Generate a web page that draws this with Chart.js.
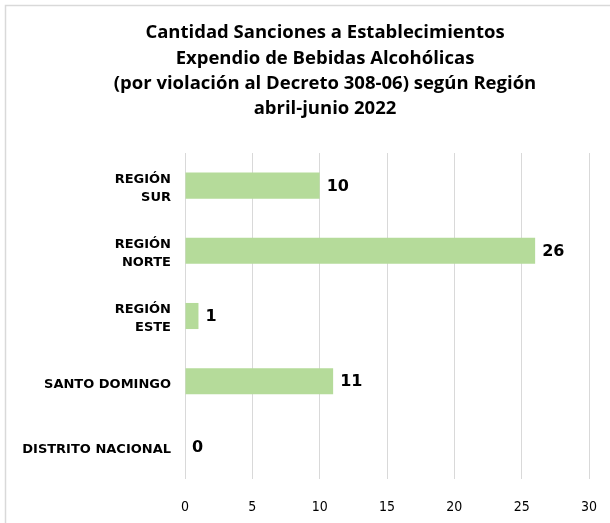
<!DOCTYPE html>
<html>
<head>
<meta charset="utf-8">
<script src="https://cdn.jsdelivr.net/npm/chart.js@4.4.1/dist/chart.umd.min.js"></script>
<style>
  html, body { margin: 0; padding: 0; background: #fff; }
  #wrap { width: 610px; height: 523px; position: relative; }
</style>
</head>
<body>
<div id="wrap"><canvas id="chart" width="610" height="523"></canvas></div>
<script>
  "use strict";

  // Datos del gráfico
  const regiones = [
    ["REGIÓN", "SUR"],
    ["REGIÓN", "NORTE"],
    ["REGIÓN", "ESTE"],
    "SANTO DOMINGO",
    "DISTRITO NACIONAL",
  ];
  const sanciones = [10, 26, 1, 11, 0];
  const tituloLineas = [
    "Cantidad Sanciones a Establecimientos",
    "Expendio de Bebidas Alcohólicas",
    "(por violación al Decreto 308-06) según Región",
    "abril-junio 2022",
  ];
  const ejeMin = 0;
  const ejeMax = 30;
  const ejePaso = 5;

  // Fondo y borde gris arriba e izquierda, como en la imagen
  const bordePlugin = {
    id: "borde",
    beforeDraw(chart) {
      const ctx = chart.ctx;
      ctx.save();
      ctx.fillStyle = "#ffffff";
      ctx.fillRect(0, 0, chart.width, chart.height);
      ctx.strokeStyle = "#d9d9d9";
      ctx.lineWidth = 1.5;
      ctx.beginPath();
      ctx.moveTo(5.5, chart.height);
      ctx.lineTo(5.5, 5.5);
      ctx.lineTo(chart.width, 5.5);
      ctx.stroke();
      ctx.restore();
    },
  };

  // Título centrado un poco a la derecha (como en el original)
  const tituloPlugin = {
    id: "tituloManual",
    afterDraw(chart) {
      const ctx = chart.ctx;
      ctx.save();
      ctx.font = "bold 18.5px 'Open Sans'";
      ctx.fillStyle = "#000";
      ctx.textAlign = "center";
      ctx.textBaseline = "middle";
      tituloLineas.forEach((linea, i) => {
        ctx.fillText(linea, 325, 33 + i * 25.3);
      });
      ctx.restore();
    },
  };

  // Etiquetas de valores al final de cada barra
  const etiquetasPlugin = {
    id: "etiquetas",
    afterDatasetsDraw(chart) {
      const ctx = chart.ctx;
      const meta = chart.getDatasetMeta(0);
      ctx.save();
      ctx.font = "bold 16px 'DejaVu Sans'";
      ctx.fillStyle = "#000";
      ctx.textAlign = "left";
      ctx.textBaseline = "middle";
      meta.data.forEach((bar, i) => {
        ctx.fillText(String(sanciones[i]), bar.x + 7, bar.y + 1);
      });
      ctx.restore();
    },
  };

  new Chart(document.getElementById("chart").getContext("2d"), {
    type: "bar",
    data: {
      labels: regiones,
      datasets: [
        {
          data: sanciones,
          backgroundColor: "#b5db9a",
          borderWidth: 0,
          barPercentage: 0.8,
          categoryPercentage: 0.5,
        },
      ],
    },
    options: {
      indexAxis: "y",
      responsive: false,
      animation: false,
      devicePixelRatio: 1,
      layout: { padding: { left: 5, right: 21, top: 153, bottom: 0 } },
      plugins: {
        legend: { display: false },
        tooltip: { enabled: false },
        title: { display: false },
      },
      scales: {
        x: {
          min: ejeMin,
          max: ejeMax,
          afterFit(scale) {
            scale.height = 44;
            scale.paddingLeft = 0;
            scale.paddingRight = 0;
          },
          ticks: {
            stepSize: ejePaso,
            color: "#000",
            font: { family: "'Liberation Sans Narrow', 'DejaVu Sans Condensed', 'DejaVu Sans'", size: 14 },
            padding: 20,
          },
          grid: { color: "#d9d9d9", lineWidth: 1, drawTicks: false },
          border: { display: false },
        },
        y: {
          afterFit(scale) {
            scale.width = 180;
            scale.paddingTop = 0;
            scale.paddingBottom = 0;
          },
          ticks: {
            color: "#000",
            font: { family: "'DejaVu Sans'", size: 13, weight: "bold", lineHeight: 1.4 },
            padding: 14,
            labelOffset: 3,
          },
          grid: { display: false, drawTicks: false },
          border: { display: false },
        },
      },
    },
    plugins: [bordePlugin, etiquetasPlugin, tituloPlugin],
  });
</script>
</body>
</html>
